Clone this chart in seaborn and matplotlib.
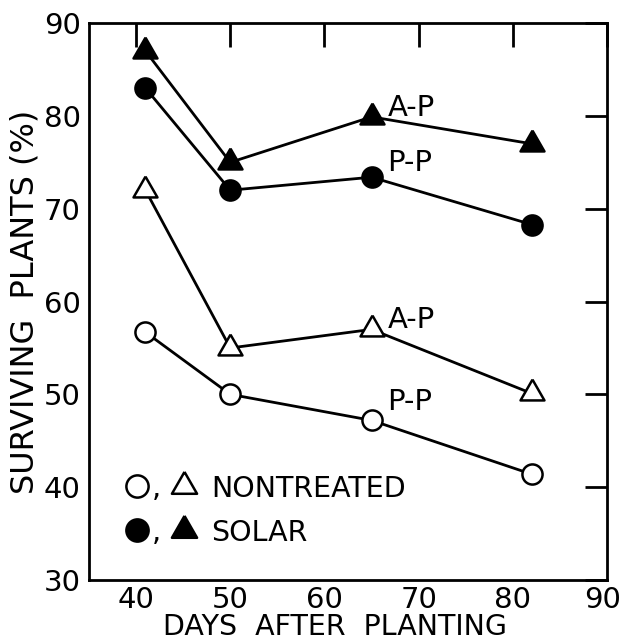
import pandas as pd
import matplotlib.pyplot as plt
import matplotlib.transforms as mtransforms
import seaborn as sns

# values
days = [41, 50, 65, 82]
solar_ap = [87, 75, 79.9, 77]
solar_pp = [83, 72, 73.4, 68.3]
nontreated_ap = [72, 55, 57, 50.1]
nontreated_pp = [56.7, 50, 47.2, 41.4]

# flatter triangle than matplotlib's "^"
tri = [(0, 0.58), (-0.5, -0.29), (0.5, -0.29), (0, 0.58)]

series = [
    (solar_ap, tri, "black", 20),
    (solar_pp, "o", "black", 14.5),
    (nontreated_ap, tri, "white", 20),
    (nontreated_pp, "o", "white", 14.5),
]

sns.set_style("white")
plt.rcParams["font.family"] = ["DejaVu Sans"]
plt.rcParams.update({"text.color": "black", "axes.labelcolor": "black",
                     "xtick.color": "black", "ytick.color": "black"})

fig = plt.figure(figsize=(6.22, 6.43), dpi=100)
ax = fig.add_axes([0.143, 0.098, 0.833, 0.866])

for vals, mk, face, ms in series:
    df = pd.DataFrame({"days": days, "surviving": vals})
    sns.lineplot(
        data=df, x="days", y="surviving", ax=ax,
        color="black", linewidth=2.0,
        marker=mk, markersize=ms,
        markerfacecolor=face, markeredgecolor="black", markeredgewidth=1.8,
    )

# curve labels
lab = dict(fontsize=21, va="center", ha="left")
ax.text(66.7, 80.9, "A-P", **lab)
ax.text(66.7, 74.9, "P-P", **lab)
ax.text(66.7, 58.0, "A-P", **lab)
ax.text(66.7, 49.2, "P-P", **lab)

# hand-drawn key
key = [("NONTREATED", "white", 40.1, 38.9), ("SOLAR", "black", 35.4, 34.2)]
for txt, face, yc, yb in key:
    ax.plot([40.1], [yc], marker="o", ms=16, mfc=face, mec="black", mew=1.8)
    ax.text(41.7, yb, ",", fontsize=21, va="baseline")
    ax.plot([45.05], [yc], marker=tri, ms=21, mfc=face, mec="black", mew=1.8)
    ax.text(48.0, yb, txt, fontsize=20.5, va="baseline")

ax.set_xlim(35, 90)
ax.set_ylim(30, 90)
ax.set_xticks([40, 50, 60, 70, 80, 90])
ax.set_yticks([30, 40, 50, 60, 70, 80, 90])
ax.tick_params(direction="in", length=16, width=2.0, labelsize=21,
               top=True, right=True, pad=6)
ax.tick_params(axis="x", length=17, pad=4)
for sp in ax.spines.values():
    sp.set_linewidth(2.0)
    sp.set_color("black")

# keep the last x tick label inside the figure
last = ax.get_xticklabels()[-1]
last.set_transform(last.get_transform()
                   + mtransforms.ScaledTranslation(-5 / 100, 0, fig.dpi_scale_trans))

ax.set_xlabel("DAYS  AFTER  PLANTING", fontsize=20.5)
ax.xaxis.set_label_coords(0.475, -0.109)
ax.xaxis.label.set_va("bottom")
ax.set_ylabel("SURVIVING  PLANTS (%)", fontsize=23, labelpad=2)

fig.savefig("out.png", dpi=100)
